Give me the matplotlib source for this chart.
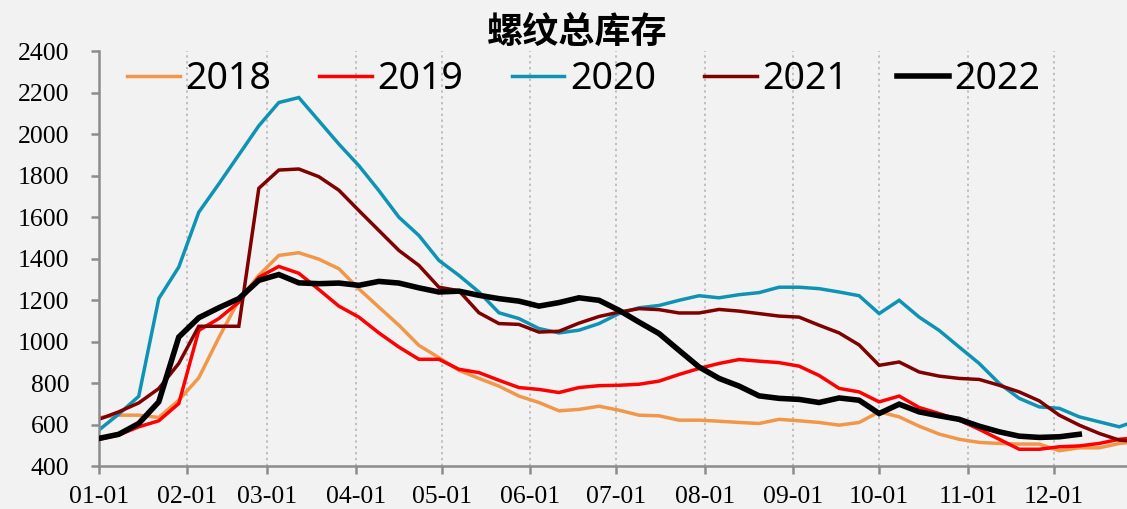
import matplotlib

matplotlib.use("Agg")
import matplotlib.pyplot as plt
import numpy as np

# weekly stock readings (10k t), one value per week starting 01-01
years = ["2018", "2019", "2020", "2021", "2022"]
colors = ["#F0974A", "#FF0000", "#0E93B5", "#800000", "#000000"]

stock_2018 = [635, 647, 647, 636, 719, 827, 1020, 1200, 1320, 1416, 1429, 1398, 1352,
              1255, 1167, 1080, 983, 924, 863, 824, 787, 739, 708, 668, 675, 690, 671,
              647, 644, 623, 623, 618, 612, 607, 627, 620, 612, 599, 612, 663, 639, 594,
              556, 531, 516, 511, 508, 508, 476, 490, 490, 511, 520]
stock_2019 = [530, 552, 591, 620, 703, 1055, 1112, 1191, 1311, 1363, 1330, 1252, 1172,
              1119, 1043, 975, 916, 916, 868, 852, 815, 780, 771, 756, 780, 789, 791,
              796, 811, 843, 872, 896, 915, 907, 900, 883, 838, 776, 759, 711, 739, 684,
              655, 623, 579, 531, 483, 483, 495, 499, 511, 531, 540]
stock_2020 = [575, 652, 738, 1208, 1360, 1624, 1760, 1900, 2040, 2152, 2176, 2064, 1952,
              1848, 1728, 1600, 1512, 1392, 1320, 1240, 1140, 1112, 1064, 1043, 1056,
              1088, 1136, 1164, 1175, 1200, 1222, 1212, 1227, 1237, 1263, 1263, 1256,
              1240, 1222, 1136, 1200, 1119, 1055, 975, 896, 800, 728, 687, 680, 639, 615,
              591, 625]
stock_2021 = [627, 663, 706, 775, 896, 1075, 1075, 1075, 1739, 1827, 1832, 1795, 1730,
              1632, 1536, 1440, 1368, 1263, 1246, 1140, 1088, 1084, 1047, 1051, 1090,
              1122, 1143, 1160, 1155, 1139, 1139, 1156, 1148, 1136, 1124, 1119, 1080,
              1043, 985, 887, 903, 855, 835, 824, 819, 791, 759, 716, 647, 599, 559, 527,
              520]
stock_2022 = [535, 555, 607, 711, 1023, 1116, 1164, 1208, 1296, 1324, 1284, 1280, 1283,
              1272, 1291, 1283, 1260, 1240, 1244, 1224, 1208, 1196, 1172, 1189, 1212,
              1200, 1152, 1095, 1040, 959, 879, 824, 787, 740, 728, 723, 708, 730, 719,
              655, 700, 663, 644, 627, 594, 567, 546, 540, 543, 555]

month_labels = ["01-01", "02-01", "03-01", "04-01", "05-01", "06-01",
                "07-01", "08-01", "09-01", "10-01", "11-01", "12-01"]
month_days = [0, 31, 59, 90, 120, 151, 181, 212, 243, 273, 304, 334]

series = [stock_2018, stock_2019, stock_2020, stock_2021, stock_2022]
bg = "#F2F2F2"
axis_grey = "#8C8C8C"

fig = plt.figure(figsize=(11.27, 5.09), dpi=100, facecolor=bg)
ax = fig.add_axes([0.0876, 0.0835, 0.9124, 0.8163], facecolor=bg)

for year, values, color in zip(years, series, colors):
    days = np.arange(len(values)) * 7
    lw = 4.0 if year == "2022" else 2.5
    ax.plot(days, values, color=color, linewidth=lw, label=year,
            solid_joinstyle="miter", zorder=3 if year == "2022" else 2)

ax.set_xlim(0, 359.7)
ax.set_ylim(400, 2400)
ax.set_yticks(np.arange(400, 2401, 200))
ax.set_xticks(month_days)
ax.set_xticklabels(month_labels)

ax.grid(axis="x", color="#BFBFBF", linestyle=(0, (1.2, 1.8)), linewidth=1.4)
ax.set_axisbelow(True)

for side in ["top", "right"]:
    ax.spines[side].set_visible(False)
for side in ["left", "bottom"]:
    ax.spines[side].set_color(axis_grey)
    ax.spines[side].set_linewidth(1.8)

ax.tick_params(axis="y", direction="out", length=6, width=1.8, color=axis_grey, pad=15)
ax.tick_params(axis="x", direction="out", length=6, width=1.8, color=axis_grey, pad=8)
for lab in ax.get_xticklabels() + ax.get_yticklabels():
    lab.set_fontfamily("Liberation Serif")
    lab.set_fontsize(18.5)
    lab.set_color("#000000")

leg = ax.legend(loc="upper left", bbox_to_anchor=(127 / 1127, 1 - 60 / 509),
                bbox_transform=fig.transFigure, ncol=5, frameon=False,
                prop={"family": ["Noto Sans", "DejaVu Sans"], "size": 27},
                handlelength=1.4, handletextpad=0.15, columnspacing=1.29,
                borderpad=0, borderaxespad=0)

fig.text(577 / 1127, 1 - 32 / 509, "螺纹总库存", ha="center", va="center",
         fontsize=26, fontweight="bold",
         family=["Noto Sans CJK SC", "DejaVu Sans"])

fig.savefig("out.png", dpi=100, facecolor=bg)
